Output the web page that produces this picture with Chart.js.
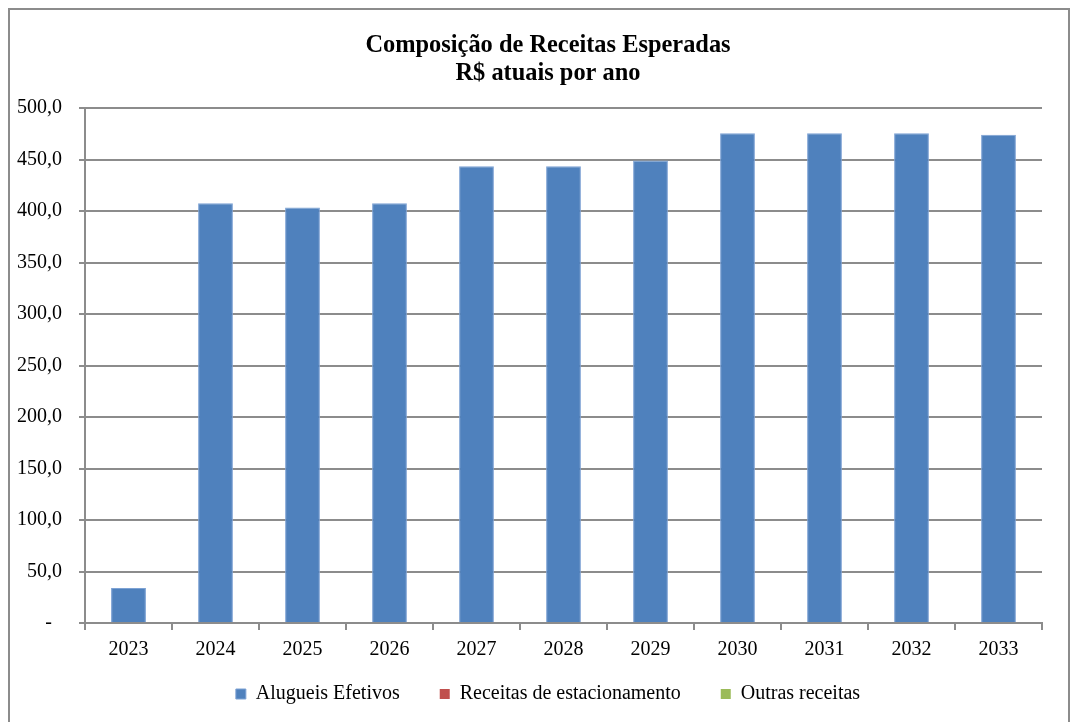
<!DOCTYPE html>
<html>
<head>
<meta charset="utf-8">
<script src="https://cdn.jsdelivr.net/npm/chart.js@4/dist/chart.umd.min.js"></script>
<style>
    html, body { margin: 0; padding: 0; background: #fff; }
    .frame {
        position: absolute; left: 8px; top: 8px;
        width: 1062px; height: 730px;
        border: 2px solid #8c8c8c; box-sizing: border-box;
    }
    #chart { position: absolute; left: 0; top: 0; }
</style>
</head>
<body>
<div class="frame"></div>
<canvas id="chart" width="1074" height="722"></canvas>
<script>
// Receitas esperadas por ano (R$ atuais)
const years = ['2023', '2024', '2025', '2026', '2027', '2028', '2029', '2030', '2031', '2032', '2033'];
const alugueisEfetivos = [34, 407.5, 403.5, 407.5, 443.5, 443.5, 449, 475.5, 475.5, 475.5, 474];
const receitasEstacionamento = [0, 0, 0, 0, 0, 0, 0, 0, 0, 0, 0];
const outrasReceitas = [0, 0, 0, 0, 0, 0, 0, 0, 0, 0, 0];
const yTicks = [0, 50, 100, 150, 200, 250, 300, 350, 400, 450, 500];

const serif = '"Liberation Serif", "Times New Roman", serif';
const gridColor = '#8c8c8c';

function fmt(v) {
    if (v === 0) return '-  ';
    return v.toFixed(1).replace('.', ',');
}

// title and legend are centred on the whole frame, not on the plot box
const centreShift = {
    id: 'centreShift',
    afterLayout(chart) {
        const dx = 27;
        const dy = -17;
        if (chart.titleBlock) {
            chart.titleBlock.left += dx;
            chart.titleBlock.right += dx;
        }
        if (chart.legend) {
            chart.legend.left += dx;
            chart.legend.right += dx;
            chart.legend.top += dy;
            chart.legend.bottom += dy;
        }
    }
};

new Chart(document.getElementById('chart'), {
    type: 'bar',
    data: {
        labels: years,
        datasets: [
            {
                label: 'Alugueis Efetivos',
                data: alugueisEfetivos,
                backgroundColor: '#4f81bd',
                borderColor: '#7da2d4',
                borderWidth: 1,
                barPercentage: 0.4,
                categoryPercentage: 1
            },
            {
                label: 'Receitas de estacionamento',
                data: receitasEstacionamento,
                backgroundColor: '#c0504d',
                borderWidth: 0,
                barPercentage: 0.4,
                categoryPercentage: 1
            },
            {
                label: 'Outras receitas',
                data: outrasReceitas,
                backgroundColor: '#9bbb59',
                borderWidth: 0,
                barPercentage: 0.4,
                categoryPercentage: 1
            }
        ]
    },
    plugins: [centreShift],
    options: {
        responsive: false,
        animation: false,
        layout: { padding: { left: 0, right: 32, top: 20, bottom: -9 } },
        plugins: {
            title: {
                display: true,
                text: ['Composição de Receitas Esperadas', 'R$ atuais por ano'],
                color: '#000',
                font: { family: serif, size: 24.4, weight: 'bold', lineHeight: 28 / 24.4 },
                padding: { top: 12, bottom: 20 }
            },
            legend: {
                position: 'bottom',
                labels: {
                    color: '#000',
                    font: { family: serif, size: 20 },
                    boxWidth: 10,
                    boxHeight: 10,
                    padding: 40
                }
            },
            tooltip: { enabled: false }
        },
        scales: {
            x: {
                stacked: true,
                grid: {
                    offset: true,
                    drawOnChartArea: false,
                    drawTicks: true,
                    tickLength: 7,
                    color: gridColor,
                    lineWidth: 2
                },
                border: { color: gridColor, width: 2 },
                ticks: {
                    color: '#000',
                    font: { family: serif, size: 20 },
                    padding: 8
                },
                afterFit: function(scale) { scale.height = 38; }
            },
            y: {
                stacked: true,
                min: 0,
                max: 500,
                afterBuildTicks: function(scale) {
                    scale.ticks = yTicks.map(v => ({ value: v }));
                },
                grid: {
                    color: gridColor,
                    lineWidth: 2,
                    tickLength: 6
                },
                border: { color: gridColor, width: 2 },
                ticks: {
                    color: '#000',
                    font: { family: serif, size: 20 },
                    padding: 17,
                    callback: function(value) { return fmt(value); }
                },
                afterFit: function(scale) { scale.width = 85; }
            }
        }
    }
});
</script>
</body>
</html>
